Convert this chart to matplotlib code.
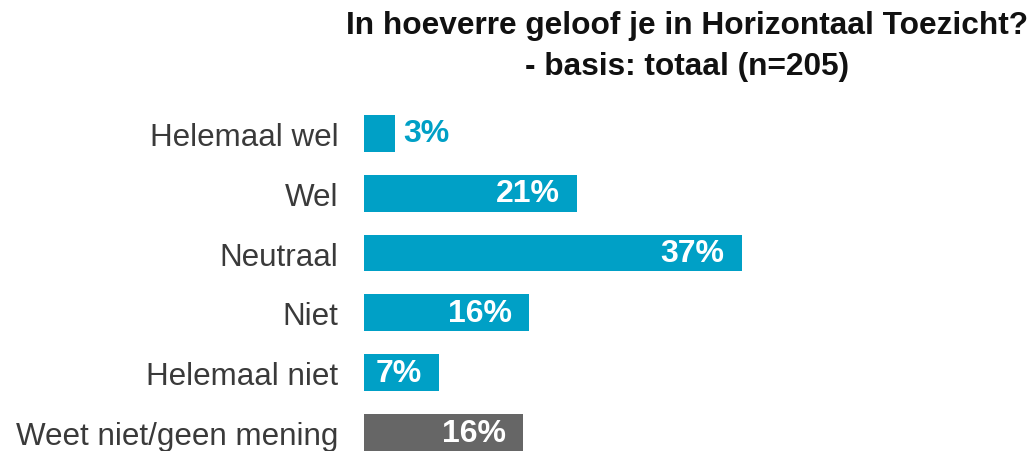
import matplotlib.pyplot as plt
import numpy as np

# data
categories = ['Helemaal wel', 'Wel', 'Neutraal', 'Niet', 'Helemaal niet',
              'Weet niet/geen mening']
values = [3.0, 20.9, 37.0, 16.2, 7.3, 15.6]
labels = ['3%', '21%', '37%', '16%', '7%', '16%']
colors = ['#00A0C6'] * 5 + ['#666666']

plt.rcParams['font.family'] = ['Liberation Sans', 'DejaVu Sans']

fig = plt.figure(figsize=(10.36, 4.52), dpi=100)
ax = fig.add_axes([364 / 1036, 0.0, 636 / 1036, 0.769])

y = np.arange(len(categories))
ax.barh(y, values, height=0.617, color=colors)
ax.set_xlim(0, 62.3)
ax.set_ylim(5.3083, -0.5)

ax.set_yticks(y)
ax.set_yticklabels(categories, fontsize=22.6, color='#3a3a3a')
ax.tick_params(axis='y', length=0, pad=18.5)
ax.set_xticks([])
for s in ax.spines.values():
    s.set_visible(False)

# value labels: inside the bar, except the smallest one
for yi, v, lab, c in zip(y, values, labels, colors):
    if v < 5:
        ax.annotate(lab, (v, yi), xytext=(9, 0), textcoords='offset pixels',
                    ha='left', va='center', fontsize=23, fontweight='bold',
                    color=c)
    else:
        ax.annotate(lab, (v, yi), xytext=(-17, 0), textcoords='offset pixels',
                    ha='right', va='center', fontsize=23, fontweight='bold',
                    color='white')

fig.text(687 / 1036, 1 - 26 / 452, 'In hoeverre geloof je in Horizontaal Toezicht?',
         ha='center', va='center', fontsize=22.8, fontweight='bold', color='#111111')
fig.text(687 / 1036, 1 - 67 / 452, '- basis: totaal (n=205)',
         ha='center', va='center', fontsize=22.8, fontweight='bold', color='#111111')

fig.savefig('out.png', dpi=100)
